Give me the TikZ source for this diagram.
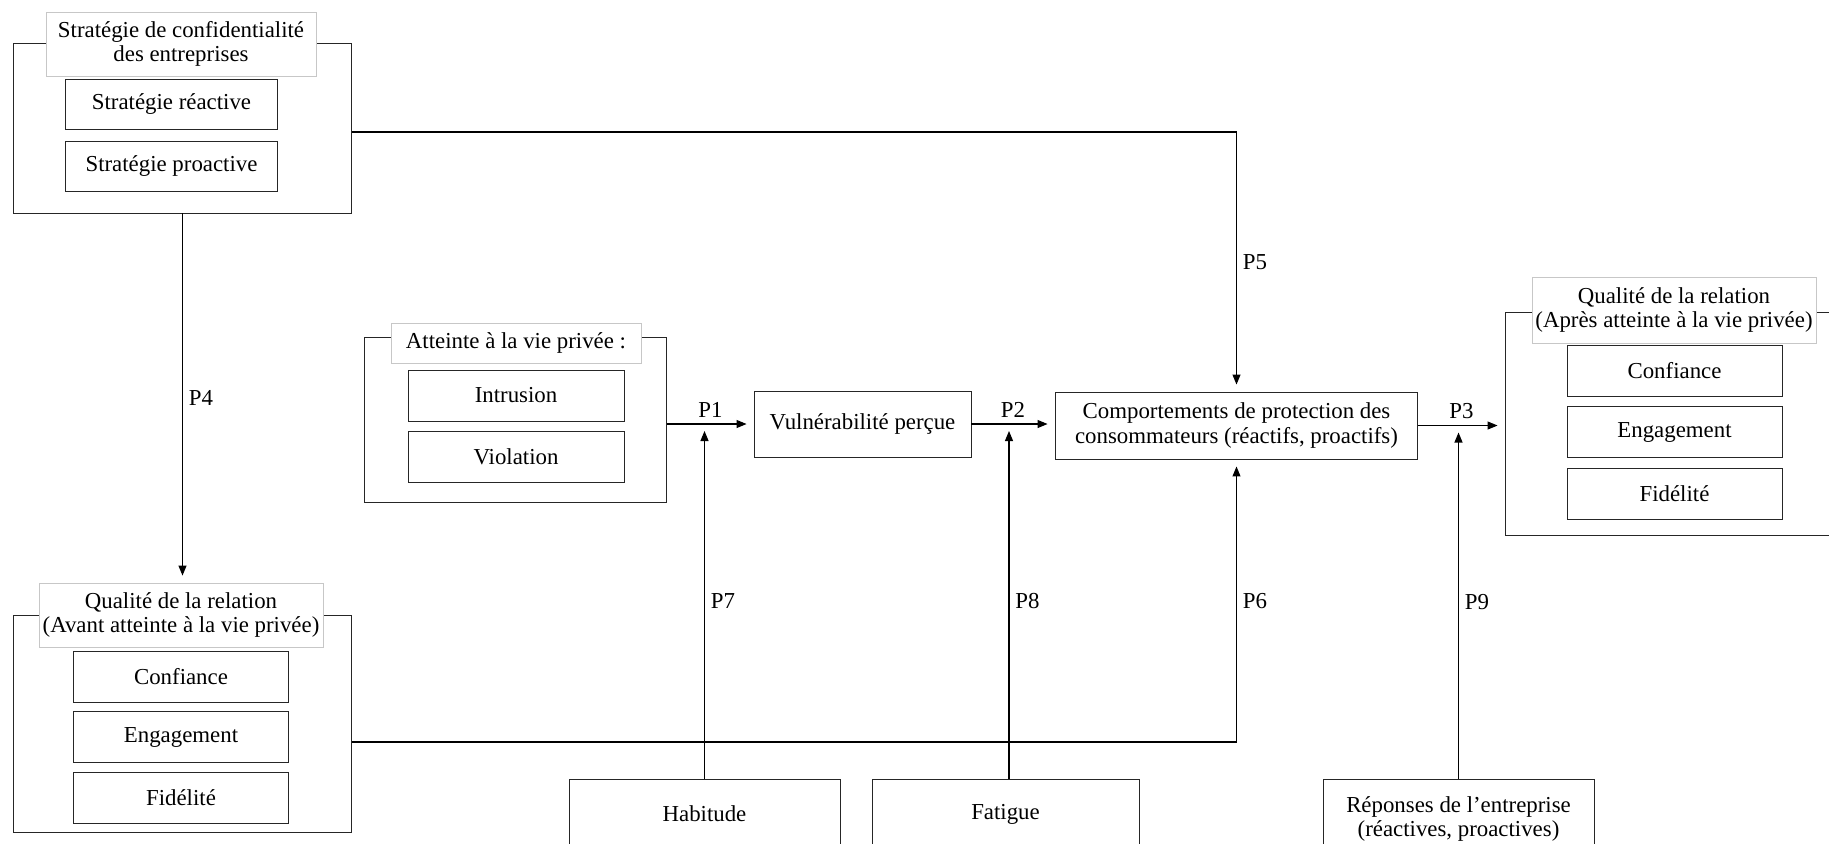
\documentclass[tikz,border=0pt]{standalone}
\usepackage{fontspec}
\setmainfont{Liberation Serif}
\usetikzlibrary{arrows.meta}

\begin{document}
\begin{tikzpicture}[x=0.02cm, y=-0.02cm,
    every node/.style={font=\fontsize{13}{14}\selectfont},
    frame/.style={draw=black!85, line width=0.55pt, inner sep=0pt},
    titlebox/.style={draw=black!22, fill=white, line width=0.5pt, align=center, inner sep=0pt},
    itembox/.style={draw=black!85, line width=0.55pt, align=center, inner sep=0pt},
    arr/.style={-{Triangle[length=0.2cm, width=0.16cm]}, line width=0.6pt, shorten >=0.14cm}]
    \useasboundingbox (0,0) rectangle (1829,843);

    % Strategie de confidentialite (top left)
    \node[frame, minimum width=6.78cm, minimum height=3.4cm] (strat) at (182.5,128) {};
    \node[titlebox, minimum width=5.4cm, minimum height=1.28cm] (stratT) at (181,44) {Stratégie de confidentialité\\des entreprises};
    \node[itembox, minimum width=4.26cm, minimum height=1cm] (reac) at (171.5,104) {Stratégie réactive};
    \node[itembox, minimum width=4.26cm, minimum height=1cm] (proac) at (171.5,166) {Stratégie proactive};

    % Qualite avant (bottom left)
    \node[frame, minimum width=6.78cm, minimum height=4.34cm] (qavant) at (182.5,723.5) {};
    \node[titlebox, minimum width=5.68cm, minimum height=1.28cm] (qavantT) at (181,615) {Qualité de la relation\\(Avant atteinte à la vie privée)};
    \node[itembox, minimum width=4.32cm, minimum height=1.02cm] (avConf) at (181,676.5) {Confiance};
    \node[itembox, minimum width=4.32cm, minimum height=1.02cm] (avEng) at (181,737) {Engagement};
    \node[itembox, minimum width=4.32cm, minimum height=1.02cm] (avFid) at (181,798) {Fidélité};

    % Atteinte a la vie privee
    \node[frame, minimum width=6.06cm, minimum height=3.3cm] (atteinte) at (515.5,419.5) {};
    \node[titlebox, minimum width=5cm, minimum height=0.8cm] (atteinteT) at (516,343) {Atteinte à la vie privée~:};
    \node[itembox, minimum width=4.32cm, minimum height=1.02cm] (intru) at (516,395.5) {Intrusion};
    \node[itembox, minimum width=4.32cm, minimum height=1.02cm] (viol) at (516,457) {Violation};

    % Middle chain
    \node[itembox, minimum width=4.34cm, minimum height=1.32cm] (vuln) at (862.5,424) {Vulnérabilité perçue};
    \node[itembox, minimum width=7.26cm, minimum height=1.34cm] (comp) at (1236.5,425.5) {Comportements de protection des\\consommateurs (réactifs, proactifs)};

    % Qualite apres (right)
    \node[frame, minimum width=6.9cm, minimum height=4.46cm] (qapres) at (1677.5,423.5) {};
    \node[titlebox, minimum width=5.68cm, minimum height=1.32cm] (qapresT) at (1674,310) {Qualité de la relation\\(Après atteinte à la vie privée)};
    \node[itembox, minimum width=4.3cm, minimum height=1.02cm] (apConf) at (1674.5,370.5) {Confiance};
    \node[itembox, minimum width=4.3cm, minimum height=1.02cm] (apEng) at (1674.5,432) {Engagement};
    \node[itembox, minimum width=4.3cm, minimum height=1.02cm] (apFid) at (1674.5,494) {Fidélité};

    % Moderators (bottom)
    \node[itembox, minimum width=5.42cm, minimum height=1.4cm] (habit) at (704.5,814) {Habitude};
    \node[itembox, minimum width=5.34cm, minimum height=1.4cm] (fatig) at (1005.5,814) {Fatigue};
    \node[itembox, minimum width=5.42cm, minimum height=1.6cm] (repon) at (1458.5,819) {Réponses de l’entreprise\\(réactives, proactives)};

    % Propositions
    \draw[arr] (atteinte.east |- vuln.west) -- node[above] {P1} (vuln.west);
    \draw[arr] (vuln.east) -- node[above] {P2} (vuln.east -| comp.west);
    \draw[arr] (comp.east) -- node[above] {P3} (comp.east -| qapres.west);
    \draw[arr] (strat.south) -- node[right] {P4} (strat.south |- qavantT.north);
    \draw[arr] ([yshift=-0.08cm]strat.east) -| node[pos=0.75, right] {P5} (comp.north);
    \draw[arr] ([yshift=-0.37cm]qavant.east) -| node[pos=0.75, right] {P6} (comp.south);
    \draw[arr] (habit.north) -- node[right] {P7} (habit.north |- vuln.west);
    \draw[arr] ([xshift=0.07cm]fatig.north) -- node[right] {P8} ([xshift=0.07cm]fatig.north |- vuln.east);
    \draw[arr] (repon.north) -- node[right] {P9} (repon.north |- comp.east);
\end{tikzpicture}
\end{document}
